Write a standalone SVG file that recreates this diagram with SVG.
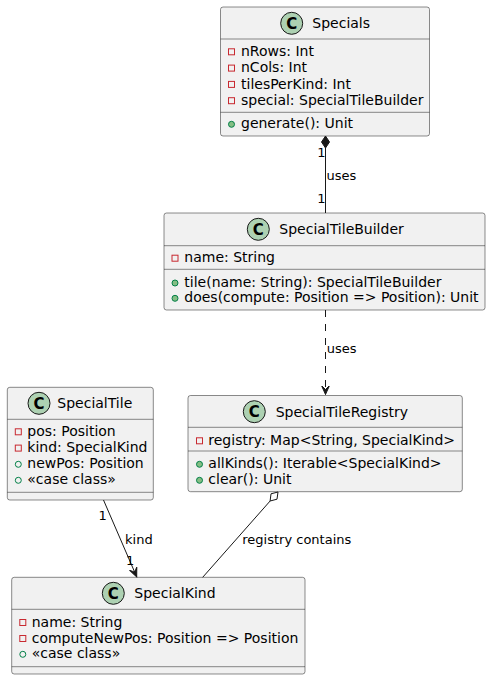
<svg xmlns="http://www.w3.org/2000/svg" width="491" height="680" viewBox="0 0 491 680">
<defs>
<style>
.box{fill:#F1F1F1;stroke:#181818;stroke-width:0.5}
.sep{stroke:#181818;stroke-width:0.5}
.ci{fill:#ADD1B2;stroke:#181818;stroke-width:1}
.cl{font-family:"DejaVu Sans",sans-serif;font-size:15px;font-weight:bold;fill:#000;text-anchor:middle}
.t{font-family:"DejaVu Sans",sans-serif;font-size:14px;fill:#000}
.lb{font-family:"DejaVu Sans",sans-serif;font-size:13px;fill:#000}
.pv{fill:none;stroke:#C82930;stroke-width:1}
.pf{fill:none;stroke:#038048;stroke-width:1}
.pm{fill:#84BE84;stroke:#038048;stroke-width:1}
.ln{fill:none;stroke:#181818;stroke-width:1}
</style>
<marker id="arr" viewBox="0 0 10 10" refX="9" refY="5" markerWidth="10" markerHeight="10" markerUnits="userSpaceOnUse" orient="auto">
<path d="M0,1 L9,5 L0,9 L4,5 Z" fill="#181818" stroke="#181818" stroke-width="1"/>
</marker>
</defs>

<g id="Specials">
<rect class="box" x="220.5" y="7" width="209" height="129" rx="2.5"/>
<circle class="ci" cx="291.7" cy="23.3" r="11"/>
<text class="cl" x="291.7" y="28.6">C</text>
<text class="t" x="312.3" y="28.4">Specials</text>
<line class="sep" x1="220.5" y1="39" x2="429.5" y2="39"/>
<rect class="pv" x="228.5" y="48.8" width="6" height="6"/>
<text class="t" x="241" y="56">nRows: Int</text>
<rect class="pv" x="228.5" y="65.1" width="6" height="6"/>
<text class="t" x="241" y="72.3">nCols: Int</text>
<rect class="pv" x="228.5" y="81.4" width="6" height="6"/>
<text class="t" x="241" y="88.6">tilesPerKind: Int</text>
<rect class="pv" x="228.5" y="97.7" width="6" height="6"/>
<text class="t" x="241" y="104.9">special: SpecialTileBuilder</text>
<line class="sep" x1="220.5" y1="112.3" x2="429.5" y2="112.3"/>
<circle class="pm" cx="231.5" cy="124.3" r="3"/>
<text class="t" x="241" y="128.3">generate(): Unit</text>
</g>

<g id="SpecialTileBuilder">
<rect class="box" x="164" y="213" width="321" height="97" rx="2.5"/>
<circle class="ci" cx="258.3" cy="229.3" r="11"/>
<text class="cl" x="258.3" y="234.6">C</text>
<text class="t" x="279.3" y="234.4">SpecialTileBuilder</text>
<line class="sep" x1="164" y1="245.7" x2="485" y2="245.7"/>
<rect class="pv" x="172" y="255.2" width="6" height="6"/>
<text class="t" x="184.3" y="262.4">name: String</text>
<line class="sep" x1="164" y1="269.3" x2="485" y2="269.3"/>
<circle class="pm" cx="175" cy="283" r="3"/>
<text class="t" x="184.3" y="287">tile(name: String): SpecialTileBuilder</text>
<circle class="pm" cx="175" cy="298.3" r="3"/>
<text class="t" x="184.3" y="302.3">does(compute: Position =&gt; Position): Unit</text>
</g>

<g id="SpecialTileRegistry">
<rect class="box" x="188" y="395.5" width="274.3" height="96.2" rx="2.5"/>
<circle class="ci" cx="254.3" cy="411.7" r="11"/>
<text class="cl" x="254.3" y="417">C</text>
<text class="t" x="275.7" y="416.8">SpecialTileRegistry</text>
<line class="sep" x1="188" y1="427.3" x2="462.3" y2="427.3"/>
<rect class="pv" x="196.5" y="437.8" width="6" height="6"/>
<text class="t" x="208.3" y="445">registry: Map&lt;String, SpecialKind&gt;</text>
<line class="sep" x1="188" y1="451" x2="462.3" y2="451"/>
<circle class="pm" cx="199.5" cy="464.3" r="3"/>
<text class="t" x="208.3" y="468.3">allKinds(): Iterable&lt;SpecialKind&gt;</text>
<circle class="pm" cx="199.5" cy="480.3" r="3"/>
<text class="t" x="208.3" y="484.3">clear(): Unit</text>
</g>

<g id="SpecialTile">
<rect class="box" x="7.3" y="387.3" width="146" height="112.7" rx="2.5"/>
<circle class="ci" cx="39" cy="403.3" r="11"/>
<text class="cl" x="39" y="408.6">C</text>
<text class="t" x="57.3" y="408.4">SpecialTile</text>
<line class="sep" x1="7.3" y1="419.3" x2="153.3" y2="419.3"/>
<rect class="pv" x="15.3" y="428.8" width="6" height="6"/>
<text class="t" x="27.3" y="436">pos: Position</text>
<rect class="pv" x="15.3" y="445.1" width="6" height="6"/>
<text class="t" x="27.3" y="452.3">kind: SpecialKind</text>
<circle class="pf" cx="18.3" cy="464.3" r="3"/>
<text class="t" x="27.3" y="468.3">newPos: Position</text>
<circle class="pf" cx="18.3" cy="480.3" r="3"/>
<text class="t" x="27.3" y="484.3">«case class»</text>
<line class="sep" x1="7.3" y1="492.3" x2="153.3" y2="492.3"/>
</g>

<g id="SpecialKind">
<rect class="box" x="11.7" y="577.3" width="293.3" height="96.7" rx="2.5"/>
<circle class="ci" cx="113.3" cy="593.3" r="11"/>
<text class="cl" x="113.3" y="598.6">C</text>
<text class="t" x="134.3" y="598.4">SpecialKind</text>
<line class="sep" x1="11.7" y1="609.3" x2="305" y2="609.3"/>
<rect class="pv" x="19.8" y="619.5" width="6" height="6"/>
<text class="t" x="31.7" y="626.7">name: String</text>
<rect class="pv" x="19.8" y="635.5" width="6" height="6"/>
<text class="t" x="31.7" y="642.7">computeNewPos: Position =&gt; Position</text>
<circle class="pf" cx="22.8" cy="654.3" r="3"/>
<text class="t" x="31.7" y="658.3">«case class»</text>
<line class="sep" x1="11.7" y1="666.7" x2="305" y2="666.7"/>
</g>

<g id="connectors">
<line class="ln" x1="325.5" y1="148" x2="325.5" y2="213"/>
<polygon points="325.5,136 329.5,142 325.5,148 321.5,142" fill="#181818" stroke="#181818" stroke-width="1"/>
<text class="lb" x="317.3" y="156.7">1</text>
<text class="lb" x="326.5" y="180">uses</text>
<text class="lb" x="317.3" y="203">1</text>

<line class="ln" x1="325.5" y1="310" x2="325.5" y2="394.5" stroke-dasharray="7,7" marker-end="url(#arr)"/>
<text class="lb" x="326.7" y="353.3">uses</text>

<line class="ln" x1="103.5" y1="500" x2="136.7" y2="576.8" marker-end="url(#arr)"/>
<text class="lb" x="98.5" y="519.5">1</text>
<text class="lb" x="125" y="543.5">kind</text>
<text class="lb" x="126" y="565">1</text>

<line class="ln" x1="270.1" y1="501" x2="202.7" y2="577.3"/>
<polygon points="278,492 277,499.2 270.1,501 271,493.8" fill="#FFFFFF" stroke="#181818" stroke-width="1"/>
<text class="lb" x="242.3" y="544">registry contains</text>
</g>
</svg>
